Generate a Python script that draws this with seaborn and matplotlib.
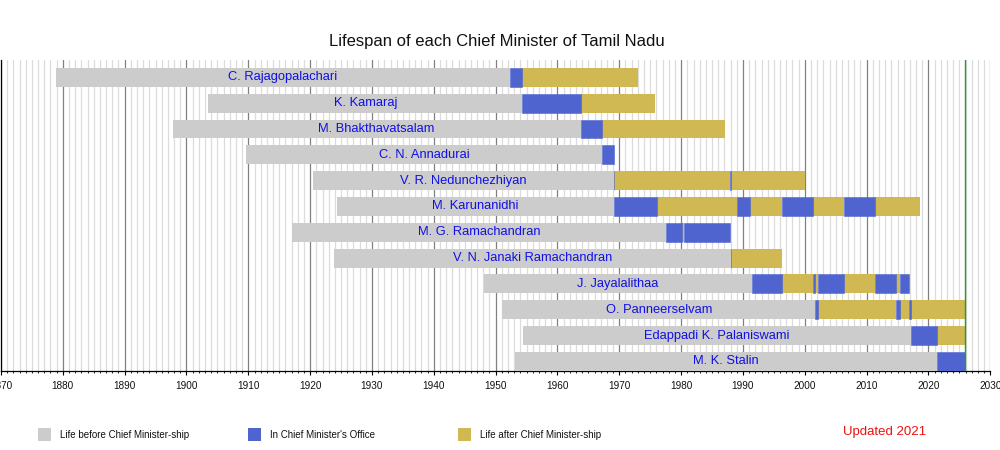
import matplotlib
matplotlib.use("Agg")
import matplotlib.pyplot as plt
from matplotlib.patches import Rectangle
from matplotlib.ticker import MultipleLocator
import seaborn as sns
import pandas as pd

# ---------------- data ----------------
names = ["C. Rajagopalachari", "K. Kamaraj", "M. Bhakthavatsalam", "C. N. Annadurai",
         "V. R. Nedunchezhiyan", "M. Karunanidhi", "M. G. Ramachandran",
         "V. N. Janaki Ramachandran", "J. Jayalalithaa", "O. Panneerselvam",
         "Edappadi K. Palaniswami", "M. K. Stalin"]
births = ["1878-12-10", "1903-07-15", "1897-10-09", "1909-09-15", "1920-07-11",
          "1924-06-03", "1917-01-17", "1923-11-30", "1948-02-24", "1951-01-14",
          "1954-05-12", "1953-03-01"]
TODAY = "2025-12-15"
deaths = ["1972-12-25", "1975-10-02", "1987-02-13", "1969-02-03", "2000-01-12",
          "2018-08-07", "1987-12-24", "1996-05-19", "2016-12-05", TODAY,
          TODAY, TODAY]
terms = [
    [("1952-04-10", "1954-04-13")],
    [("1954-04-13", "1963-10-02")],
    [("1963-10-02", "1967-03-06")],
    [("1967-03-06", "1969-02-03")],
    [("1969-02-03", "1969-02-10"), ("1987-12-24", "1988-01-07")],
    [("1969-02-10", "1976-01-31"), ("1989-01-27", "1991-01-30"),
     ("1996-05-13", "2001-05-13"), ("2006-05-13", "2011-05-15")],
    [("1977-06-30", "1980-02-17"), ("1980-06-09", "1987-12-24")],
    [("1988-01-07", "1988-01-30")],
    [("1991-06-24", "1996-05-12"), ("2001-05-14", "2001-09-21"),
     ("2002-03-02", "2006-05-12"), ("2011-05-16", "2014-09-27"),
     ("2015-05-23", "2016-12-05")],
    [("2001-09-21", "2002-03-02"), ("2014-09-29", "2015-05-23"),
     ("2016-12-06", "2017-02-16")],
    [("2017-02-16", "2021-05-07")],
    [("2021-05-07", TODAY)],
]
x_ticks = list(range(1870, 2031, 10))
legend_labels = ["Life before Chief Minister-ship", "In Chief Minister's Office",
                 "Life after Chief Minister-ship"]
note_text = "Updated 2021"
title_text = "Lifespan of each Chief Minister of Tamil Nadu"

# ---------------- style ----------------
C_BEFORE = "#cccccc"
C_OFFICE = "#5064d0"
C_AFTER = "#d0b952"
C_NAME = "#1010e6"

sns.set_theme(style="white")
plt.rcParams["font.family"] = ["Liberation Sans", "DejaVu Sans"]


def fy(s):
    d = pd.Timestamp(s)
    return d.year + (d.dayofyear - 1) / 365.25


fig = plt.figure(figsize=(10, 4.5), dpi=100)
ax = fig.add_axes([0.001, 1 - 370.7 / 450, 0.9893, (370.7 - 60) / 450])

H = 0.73
for i, name in enumerate(names):
    b = fy(births[i])
    d = fy(deaths[i])
    t = [(fy(s), fy(e)) for s, e in terms[i]]
    # life before
    ax.barh(i, t[0][0] - b, left=b, height=H, color=C_BEFORE, zorder=3, linewidth=0)
    # gaps & after
    for k, (s, e) in enumerate(t):
        nxt = t[k + 1][0] if k + 1 < len(t) else d
        if nxt - e > 0:
            ax.barh(i, nxt - e, left=e, height=H, color=C_AFTER, zorder=3, linewidth=0)
    for s, e in t:
        ax.barh(i, e - s, left=s, height=H, color=C_OFFICE, zorder=4,
                edgecolor=C_OFFICE, linewidth=0.4)
    ax.text((b + t[0][0]) / 2, i, name, ha="center", va="center",
            color=C_NAME, fontsize=9.3, zorder=5)

ax.axvline(fy(TODAY), color="#22a022", lw=1.0, zorder=6)

ax.set_xlim(1870, 2030)
ax.set_ylim(11.36, -0.67)
ax.set_xticks(x_ticks)
ax.set_xticklabels([str(v) for v in x_ticks], fontsize=7.2, color="#111111")
ax.xaxis.set_minor_locator(MultipleLocator(1))
ax.set_yticks([])
ax.tick_params(axis="x", which="major", direction="out", length=3, width=0.8,
               color="black", pad=4.5, bottom=True)
ax.tick_params(axis="x", which="minor", direction="out", length=1.6, width=0.6,
               color="black", bottom=True)
ax.grid(axis="x", which="major", color="#808080", lw=0.9, zorder=1)
ax.grid(axis="x", which="minor", color="#dcdcdc", lw=0.9, zorder=0)
ax.set_axisbelow(True)
for sp in ["top", "right"]:
    ax.spines[sp].set_visible(False)
for sp in ["left", "bottom"]:
    ax.spines[sp].set_color("black")
    ax.spines[sp].set_linewidth(0.9)

fig.text(0.4965, 1 - 41.7 / 450, title_text, ha="center", va="center",
         fontsize=12, color="#111111")

# legend
for k, (lab, col) in enumerate(zip(legend_labels, [C_BEFORE, C_OFFICE, C_AFTER])):
    x0 = 38 + 210 * k
    fig.patches.append(Rectangle((x0 / 1000, 1 - 441 / 450), 13 / 1000, 13 / 450,
                                 transform=fig.transFigure, facecolor=col,
                                 edgecolor="none"))
    fig.text((x0 + 22) / 1000, 1 - 435.5 / 450, lab, ha="left", va="center",
             fontsize=7, color="#111111")

fig.text(884.5 / 1000, 1 - 432 / 450, note_text, ha="center", va="center",
         fontsize=9.5, color="#ee1111")

fig.savefig("out.png", dpi=100)
